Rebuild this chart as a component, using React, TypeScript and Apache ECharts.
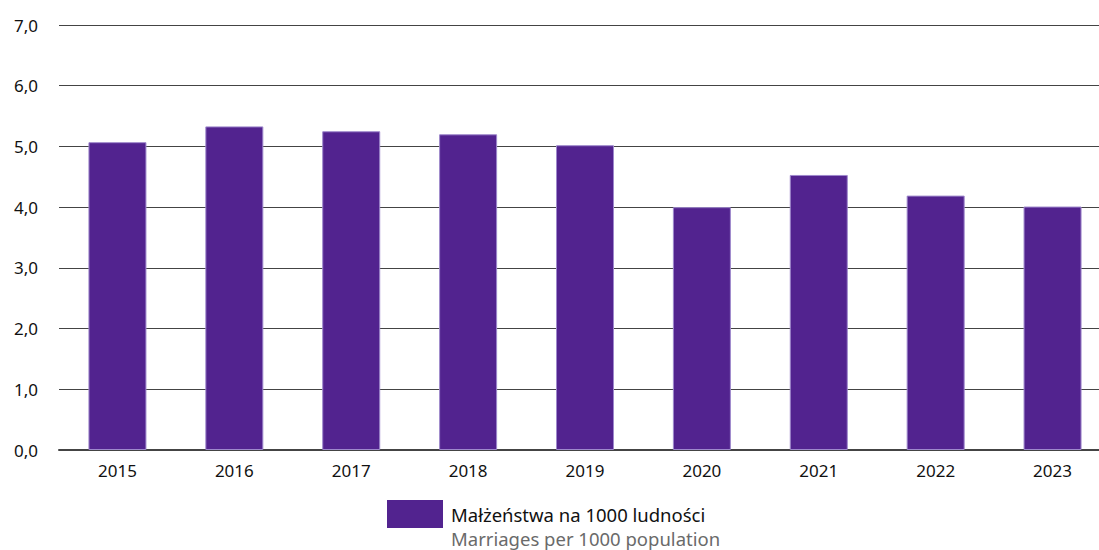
import React, { useEffect, useRef } from "react";
import * as echarts from "echarts";

const years = ["2015", "2016", "2017", "2018", "2019", "2020", "2021", "2022", "2023"];
const marriages = [5.07, 5.33, 5.25, 5.2, 5.02, 4.0, 4.53, 4.19, 4.01];
const seriesName = "Małżeństwa na 1000 ludności";
const seriesNameEn = "Marriages per 1000 population";

const FONT = "'Noto Sans', 'Open Sans', sans-serif";

export default function App() {
  const ref = useRef<HTMLDivElement>(null);
  useEffect(() => {
    if (!ref.current) return;
    const chart = echarts.init(ref.current, null, { renderer: "svg" });
    chart.setOption({
      animation: false,
      textStyle: { fontFamily: FONT },
      grid: { left: 59, top: 25, width: 1052, height: 425, containLabel: false },
      legend: {
        left: 387,
        top: 500,
        padding: 0,
        itemWidth: 56,
        itemHeight: 28,
        icon: "rect",
        data: [seriesName],
        itemStyle: { borderWidth: 0, color: "#52238F" },
        textStyle: {
          fontFamily: FONT,
          fontSize: 18.5,
          lineHeight: 20,
          color: "#111",
          padding: [0, 0, 4, 3],
        },
        selectedMode: false,
      },
      xAxis: {
        type: "category",
        data: years,
        axisLine: { lineStyle: { color: "#444", width: 2 } },
        axisTick: { show: false },
        axisLabel: { fontFamily: FONT, fontSize: 17, color: "#111", margin: 12 },
      },
      yAxis: {
        type: "value",
        min: 0,
        max: 7,
        interval: 1,
        axisLine: { show: false },
        axisTick: { show: false },
        splitLine: { lineStyle: { color: "#444", width: 1 } },
        axisLabel: {
          fontFamily: FONT,
          fontSize: 17,
          color: "#111",
          margin: 21,
          formatter: (v: number) => v.toFixed(1).replace(".", ","),
        },
      },
      series: [
        {
          name: seriesName,
          type: "bar",
          data: marriages,
          barWidth: 58,
          itemStyle: { color: "#52238F", borderColor: "#9E88CC", borderWidth: 1 },
        },
      ],
      graphic: [
        {
          type: "text",
          left: 451,
          top: 528,
          style: {
            text: seriesNameEn,
            fontFamily: FONT,
            fontSize: 18.5,
            lineHeight: 20,
            fill: "#6a6a6a",
          },
        },
      ],
    });
    return () => chart.dispose();
  }, []);
  return (
    <div
      style={{
        position: "fixed",
        left: 0,
        top: 0,
        width: 1099,
        height: 550,
        overflow: "hidden",
        background: "#fff",
      }}
    >
      <div ref={ref} style={{ width: 1112, height: 550 }} />
    </div>
  );
}
